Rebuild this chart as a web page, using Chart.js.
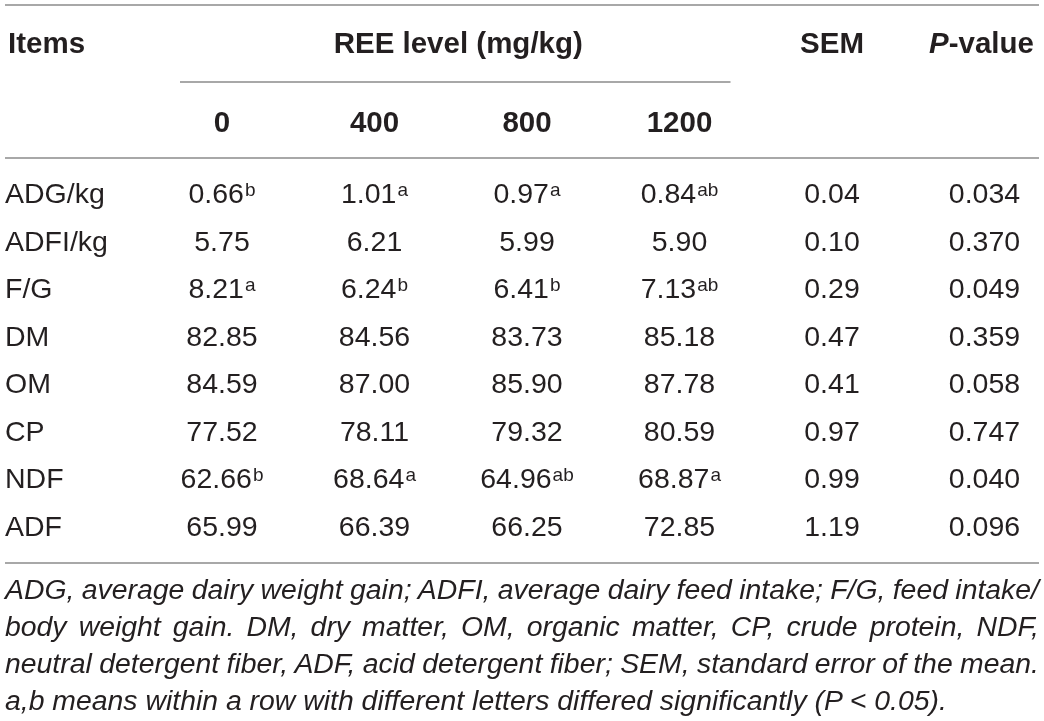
<!DOCTYPE html>
<html><head><meta charset="utf-8">
<script src="https://cdn.jsdelivr.net/npm/chart.js@4/dist/chart.umd.min.js"></script>
<style>
html,body{margin:0;padding:0;background:#fff;width:1044px;height:721px;overflow:hidden;}
#wrap{position:relative;width:1044px;height:721px;}
canvas{position:absolute;left:0;top:0;}
#note{position:absolute;left:5px;top:571px;width:1034px;font-family:"Liberation Sans",Arial,sans-serif;font-style:italic;font-size:28.4px;color:#231f20;}
#note div{height:37px;line-height:37px;white-space:nowrap;}
#note span{display:inline-block;white-space:nowrap;}
</style></head>
<body><div id="wrap"><canvas id="c" width="1044" height="721"></canvas>
<div id="note">
<div data-j="1"><span>ADG, average dairy weight gain; ADFI, average dairy feed intake; F/G, feed intake/</span></div>
<div data-j="1"><span>body weight gain. DM, dry matter, OM, organic matter, CP, crude protein, NDF,</span></div>
<div data-j="1"><span>neutral detergent fiber, ADF, acid detergent fiber; SEM, standard error of the mean.</span></div>
<div><span>a,b means within a row with different letters differed significantly (P &lt; 0.05).</span></div>
</div></div>
<script>
// ---- data ----
const columns = ['Items', '0', '400', '800', '1200', 'SEM', 'P-value'];
const groupTitle = 'REE level (mg/kg)';
const items = ['ADG/kg', 'ADFI/kg', 'F/G', 'DM', 'OM', 'CP', 'NDF', 'ADF'];
const ree0 = [0.66, 5.75, 8.21, 82.85, 84.59, 77.52, 62.66, 65.99];
const sup0 = ['b', '', 'a', '', '', '', 'b', ''];
const ree400 = [1.01, 6.21, 6.24, 84.56, 87.00, 78.11, 68.64, 66.39];
const sup400 = ['a', '', 'b', '', '', '', 'a', ''];
const ree800 = [0.97, 5.99, 6.41, 83.73, 85.90, 79.32, 64.96, 66.25];
const sup800 = ['a', '', 'b', '', '', '', 'ab', ''];
const ree1200 = [0.84, 5.90, 7.13, 85.18, 87.78, 80.59, 68.87, 72.85];
const sup1200 = ['ab', '', 'ab', '', '', '', 'a', ''];
const sem = [0.04, 0.10, 0.29, 0.47, 0.41, 0.97, 0.99, 1.19];
const pValue = [0.034, 0.370, 0.049, 0.359, 0.058, 0.747, 0.040, 0.096];

// ---- build datasets ----
const FONT = '"Liberation Sans", Arial, sans-serif';
const TEXT = '#231f20';
const RULE = '#a8a8a8';
const BODY_SIZE = 28.5;
const HEAD_SIZE = 29.5;
const SUP_SIZE = 19;
const colDefs = [
  {texts: items, sups: items.map(() => ''), align: 'left'},
  {texts: ree0.map(v => v.toFixed(2)), sups: sup0},
  {texts: ree400.map(v => v.toFixed(2)), sups: sup400},
  {texts: ree800.map(v => v.toFixed(2)), sups: sup800},
  {texts: ree1200.map(v => v.toFixed(2)), sups: sup1200},
  {texts: sem.map(v => v.toFixed(2)), sups: sem.map(() => '')},
  {texts: pValue.map(v => v.toFixed(3)), sups: pValue.map(() => '')}
];
const datasets = colDefs.map((cd, c) => ({
  label: columns[c],
  data: items.map((it) => ({x: columns[c], y: it})),
  cellText: cd.texts,
  cellSup: cd.sups,
  cellAlign: cd.align || 'center',
  pointRadius: 0,
  pointHoverRadius: 0
}));

function drawCell(ctx, x, y, main, sup, align, bold) {
  const mainFont = (bold ? 'bold ' + HEAD_SIZE : BODY_SIZE) + 'px ' + FONT;
  const supFont = SUP_SIZE + 'px ' + FONT;
  ctx.font = mainFont;
  const w1 = ctx.measureText(main).width;
  ctx.font = supFont;
  const w2 = sup ? ctx.measureText(sup).width + 1 : 0;
  const start = align === 'left' ? x : x - (w1 + w2) / 2;
  ctx.textAlign = 'left';
  ctx.textBaseline = 'alphabetic';
  ctx.fillStyle = TEXT;
  ctx.font = mainFont;
  ctx.fillText(main, start, y + 10);
  if (sup) {
    ctx.font = supFont;
    ctx.fillText(sup, start + w1 + 1, y + 3);
  }
}

const tablePlugin = {
  id: 'tablePlugin',
  beforeDraw(chart) {
    const ctx = chart.ctx;
    ctx.save();
    ctx.fillStyle = '#fff';
    ctx.fillRect(0, 0, chart.width, chart.height);
    ctx.restore();
  },
  afterDatasetsDraw(chart, args, opts) {
    const ctx = chart.ctx;
    const xs = chart.scales.x;
    const L = opts.left, R = chart.width - opts.left;
    ctx.save();
    // rules
    ctx.strokeStyle = RULE;
    ctx.lineWidth = 2;
    const hline = (y, x0, x1) => { ctx.beginPath(); ctx.moveTo(x0, y); ctx.lineTo(x1, y); ctx.stroke(); };
    const g0 = xs.getPixelForValue(1) - 42, g1 = xs.getPixelForValue(4) + 51;
    hline(opts.topRule, L, R);
    hline(opts.groupRule, g0, g1);
    hline(opts.headRule, L, R);
    hline(opts.footRule, L, R);
    // header row 1
    drawCell(ctx, L + 3, opts.headRow1, columns[0], '', 'left', true);
    drawCell(ctx, (g0 + g1) / 2 + 3, opts.headRow1, groupTitle, '', 'center', true);
    drawCell(ctx, xs.getPixelForValue(5), opts.headRow1, columns[5], '', 'center', true);
    // P-value with italic P
    const hf = HEAD_SIZE + 'px ' + FONT;
    ctx.font = 'italic bold ' + hf;
    const wp = ctx.measureText('P').width;
    ctx.font = 'bold ' + hf;
    const rest = columns[6].slice(1);
    const wr = ctx.measureText(rest).width;
    const px0 = xs.getPixelForValue(6) - 3 - (wp + wr) / 2;
    ctx.fillStyle = TEXT;
    ctx.textAlign = 'left';
    ctx.textBaseline = 'alphabetic';
    ctx.font = 'italic bold ' + hf;
    ctx.fillText('P', px0, opts.headRow1 + 10);
    ctx.font = 'bold ' + hf;
    ctx.fillText(rest, px0 + wp, opts.headRow1 + 10);
    // header row 2
    for (let c = 1; c <= 4; c++) {
      drawCell(ctx, xs.getPixelForValue(c), opts.headRow2, columns[c], '', 'center', true);
    }
    // body cells from dataset elements
    chart.data.datasets.forEach((ds, di) => {
      const meta = chart.getDatasetMeta(di);
      meta.data.forEach((pt, i) => {
        const x = ds.cellAlign === 'left' ? L : pt.x;
        drawCell(ctx, x, pt.y, ds.cellText[i], ds.cellSup[i], ds.cellAlign, false);
      });
    });
    ctx.restore();
  }
};

new Chart(document.getElementById('c'), {
  type: 'scatter',
  data: {datasets},
  options: {
    responsive: false,
    animation: false,
    events: [],
    layout: {padding: {left: 69.5, right: 59.5, top: 193, bottom: 721 - 526}},
    scales: {
      x: {type: 'category', labels: columns, offset: false, display: false},
      y: {type: 'category', labels: items, offset: false, display: false}
    },
    plugins: {
      legend: {display: false},
      tooltip: {enabled: false},
      tablePlugin: {left: 5, topRule: 5, headRow1: 43, groupRule: 82, headRow2: 122, headRule: 158, footRule: 563}
    }
  },
  plugins: [tablePlugin]
});

// justify footnote lines to the full width
(function () {
  const target = 1034;
  document.querySelectorAll('#note div').forEach(div => {
    const span = div.querySelector('span');
    const txt = span.textContent;
    const w = span.getBoundingClientRect().width;
    if (div.dataset.j) {
      const spaces = (txt.match(/ /g) || []).length;
      let ws = (target - w) / spaces;
      if (ws < -2) {
        span.style.letterSpacing = ((target - w) / txt.length) + 'px';
      } else {
        span.style.wordSpacing = ws + 'px';
      }
    } else if (w > target) {
      span.style.letterSpacing = ((target - w) / txt.length) + 'px';
    }
  });
})();
</script>
</body></html>
